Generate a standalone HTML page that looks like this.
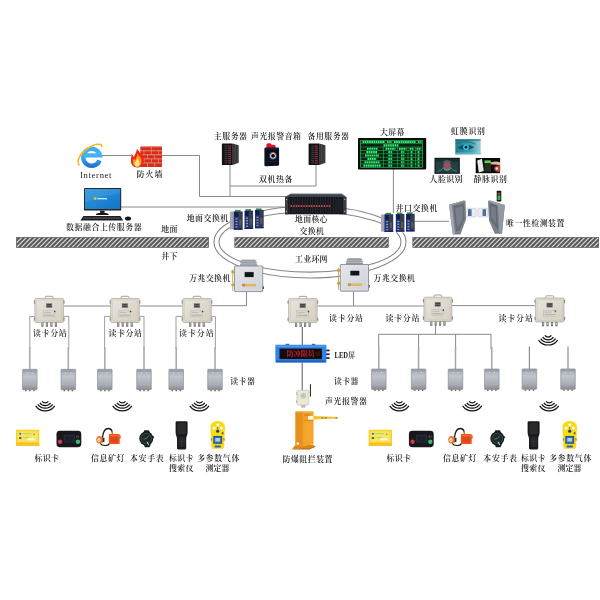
<!DOCTYPE html>
<html lang="zh-CN">
<head>
<meta charset="utf-8">
<title>人员定位系统拓扑图</title>
<style>
html,body{margin:0;padding:0;background:#fff;}
body{width:600px;height:600px;overflow:hidden;}
svg{display:block;font-family:"Liberation Serif", "Noto Serif CJK SC", serif;will-change:transform;}
</style>
</head>
<body>
<svg width="600" height="600" viewBox="0 0 600 600">
<rect width="600" height="600" fill="#ffffff"/>
<defs>
<linearGradient id="gStation" x1="0" y1="0" x2="1" y2="1">
<stop offset="0" stop-color="#e9e5dc"/><stop offset="1" stop-color="#d4cec2"/>
</linearGradient>
<linearGradient id="gReader" x1="0" y1="0" x2="0" y2="1">
<stop offset="0" stop-color="#9fa3ac"/><stop offset="0.35" stop-color="#c0c4cb"/><stop offset="0.75" stop-color="#a9adb5"/><stop offset="1" stop-color="#878b94"/>
</linearGradient>
<linearGradient id="g10g" x1="0" y1="0" x2="1" y2="1">
<stop offset="0" stop-color="#e3e6ea"/><stop offset="1" stop-color="#ced2d8"/>
</linearGradient>
</defs>
<clipPath id="cb0"><rect x="16.3" y="237.3" width="192.40" height="10.30"/></clipPath>
<rect x="16.3" y="237.3" width="192.40" height="10.30" fill="#595959"/>
<path clip-path="url(#cb0)" d="M6.60 248.10 l11.30 -11.30 M11.22 248.10 l11.30 -11.30 M15.84 248.10 l11.30 -11.30 M20.46 248.10 l11.30 -11.30 M25.08 248.10 l11.30 -11.30 M29.70 248.10 l11.30 -11.30 M34.32 248.10 l11.30 -11.30 M38.94 248.10 l11.30 -11.30 M43.56 248.10 l11.30 -11.30 M48.18 248.10 l11.30 -11.30 M52.80 248.10 l11.30 -11.30 M57.42 248.10 l11.30 -11.30 M62.04 248.10 l11.30 -11.30 M66.66 248.10 l11.30 -11.30 M71.28 248.10 l11.30 -11.30 M75.90 248.10 l11.30 -11.30 M80.52 248.10 l11.30 -11.30 M85.14 248.10 l11.30 -11.30 M89.76 248.10 l11.30 -11.30 M94.38 248.10 l11.30 -11.30 M99.00 248.10 l11.30 -11.30 M103.62 248.10 l11.30 -11.30 M108.24 248.10 l11.30 -11.30 M112.86 248.10 l11.30 -11.30 M117.48 248.10 l11.30 -11.30 M122.10 248.10 l11.30 -11.30 M126.72 248.10 l11.30 -11.30 M131.34 248.10 l11.30 -11.30 M135.96 248.10 l11.30 -11.30 M140.58 248.10 l11.30 -11.30 M145.20 248.10 l11.30 -11.30 M149.82 248.10 l11.30 -11.30 M154.44 248.10 l11.30 -11.30 M159.06 248.10 l11.30 -11.30 M163.68 248.10 l11.30 -11.30 M168.30 248.10 l11.30 -11.30 M172.92 248.10 l11.30 -11.30 M177.54 248.10 l11.30 -11.30 M182.16 248.10 l11.30 -11.30 M186.78 248.10 l11.30 -11.30 M191.40 248.10 l11.30 -11.30 M196.02 248.10 l11.30 -11.30 M200.64 248.10 l11.30 -11.30 M205.26 248.10 l11.30 -11.30" stroke="#d6d6d6" stroke-width="1.2" fill="none"/>
<rect x="16.3" y="237.3" width="192.40" height="10.30" fill="none" stroke="#505050" stroke-width="0.5"/>
<clipPath id="cb1"><rect x="234.8" y="237.3" width="153.60" height="10.30"/></clipPath>
<rect x="234.8" y="237.3" width="153.60" height="10.30" fill="#595959"/>
<path clip-path="url(#cb1)" d="M225.10 248.10 l11.30 -11.30 M229.72 248.10 l11.30 -11.30 M234.34 248.10 l11.30 -11.30 M238.96 248.10 l11.30 -11.30 M243.58 248.10 l11.30 -11.30 M248.20 248.10 l11.30 -11.30 M252.82 248.10 l11.30 -11.30 M257.44 248.10 l11.30 -11.30 M262.06 248.10 l11.30 -11.30 M266.68 248.10 l11.30 -11.30 M271.30 248.10 l11.30 -11.30 M275.92 248.10 l11.30 -11.30 M280.54 248.10 l11.30 -11.30 M285.16 248.10 l11.30 -11.30 M289.78 248.10 l11.30 -11.30 M294.40 248.10 l11.30 -11.30 M299.02 248.10 l11.30 -11.30 M303.64 248.10 l11.30 -11.30 M308.26 248.10 l11.30 -11.30 M312.88 248.10 l11.30 -11.30 M317.50 248.10 l11.30 -11.30 M322.12 248.10 l11.30 -11.30 M326.74 248.10 l11.30 -11.30 M331.36 248.10 l11.30 -11.30 M335.98 248.10 l11.30 -11.30 M340.60 248.10 l11.30 -11.30 M345.22 248.10 l11.30 -11.30 M349.84 248.10 l11.30 -11.30 M354.46 248.10 l11.30 -11.30 M359.08 248.10 l11.30 -11.30 M363.70 248.10 l11.30 -11.30 M368.32 248.10 l11.30 -11.30 M372.94 248.10 l11.30 -11.30 M377.56 248.10 l11.30 -11.30 M382.18 248.10 l11.30 -11.30 M386.80 248.10 l11.30 -11.30" stroke="#d6d6d6" stroke-width="1.2" fill="none"/>
<rect x="234.8" y="237.3" width="153.60" height="10.30" fill="none" stroke="#505050" stroke-width="0.5"/>
<clipPath id="cb2"><rect x="412.8" y="237.3" width="186.00" height="10.30"/></clipPath>
<rect x="412.8" y="237.3" width="186.00" height="10.30" fill="#595959"/>
<path clip-path="url(#cb2)" d="M403.10 248.10 l11.30 -11.30 M407.72 248.10 l11.30 -11.30 M412.34 248.10 l11.30 -11.30 M416.96 248.10 l11.30 -11.30 M421.58 248.10 l11.30 -11.30 M426.20 248.10 l11.30 -11.30 M430.82 248.10 l11.30 -11.30 M435.44 248.10 l11.30 -11.30 M440.06 248.10 l11.30 -11.30 M444.68 248.10 l11.30 -11.30 M449.30 248.10 l11.30 -11.30 M453.92 248.10 l11.30 -11.30 M458.54 248.10 l11.30 -11.30 M463.16 248.10 l11.30 -11.30 M467.78 248.10 l11.30 -11.30 M472.40 248.10 l11.30 -11.30 M477.02 248.10 l11.30 -11.30 M481.64 248.10 l11.30 -11.30 M486.26 248.10 l11.30 -11.30 M490.88 248.10 l11.30 -11.30 M495.50 248.10 l11.30 -11.30 M500.12 248.10 l11.30 -11.30 M504.74 248.10 l11.30 -11.30 M509.36 248.10 l11.30 -11.30 M513.98 248.10 l11.30 -11.30 M518.60 248.10 l11.30 -11.30 M523.22 248.10 l11.30 -11.30 M527.84 248.10 l11.30 -11.30 M532.46 248.10 l11.30 -11.30 M537.08 248.10 l11.30 -11.30 M541.70 248.10 l11.30 -11.30 M546.32 248.10 l11.30 -11.30 M550.94 248.10 l11.30 -11.30 M555.56 248.10 l11.30 -11.30 M560.18 248.10 l11.30 -11.30 M564.80 248.10 l11.30 -11.30 M569.42 248.10 l11.30 -11.30 M574.04 248.10 l11.30 -11.30 M578.66 248.10 l11.30 -11.30 M583.28 248.10 l11.30 -11.30 M587.90 248.10 l11.30 -11.30 M592.52 248.10 l11.30 -11.30 M597.14 248.10 l11.30 -11.30" stroke="#d6d6d6" stroke-width="1.2" fill="none"/>
<rect x="412.8" y="237.3" width="186.00" height="10.30" fill="none" stroke="#505050" stroke-width="0.5"/>
<ellipse cx="310" cy="242" rx="96" ry="36" fill="none" stroke="#858585" stroke-width="1.05"/>
<ellipse cx="310" cy="242" rx="91" ry="30.1" fill="none" stroke="#858585" stroke-width="1.05"/>
<path d="M102.00 155.50 L131.00 155.50" fill="none" stroke="#7d7d7d" stroke-width="0.9"/>
<path d="M162.00 155.50 L199.50 155.50 L199.50 196.50 L291.00 196.50" fill="none" stroke="#7d7d7d" stroke-width="0.9"/>
<path d="M121.00 207.00 L287.00 207.00" fill="none" stroke="#7d7d7d" stroke-width="0.9"/>
<path d="M230.00 165.00 L230.00 196.00" fill="none" stroke="#7d7d7d" stroke-width="0.9"/>
<path d="M230.00 186.00 L316.00 186.00 L316.00 165.00" fill="none" stroke="#7d7d7d" stroke-width="0.9"/>
<path d="M393.40 169.00 L393.40 214.00" fill="none" stroke="#7d7d7d" stroke-width="0.9"/>
<path d="M414.00 221.30 L449.00 221.30" fill="none" stroke="#7d7d7d" stroke-width="0.9"/>
<path d="M64.00 306.00 L111.00 306.00" fill="none" stroke="#7d7d7d" stroke-width="0.9"/>
<path d="M139.50 306.00 L182.00 306.00" fill="none" stroke="#7d7d7d" stroke-width="0.9"/>
<path d="M211.00 305.70 L246.50 305.70 L246.50 292.00" fill="none" stroke="#7d7d7d" stroke-width="0.9"/>
<path d="M317.50 306.00 L424.20 306.00" fill="none" stroke="#7d7d7d" stroke-width="0.9"/>
<path d="M353.50 291.00 L353.50 306.00" fill="none" stroke="#7d7d7d" stroke-width="0.9"/>
<path d="M451.80 305.60 L535.00 305.60" fill="none" stroke="#7d7d7d" stroke-width="0.9"/>
<path d="M34.70 316.40 L29.80 316.40 L29.80 349.00" fill="none" stroke="#858585" stroke-width="0.8"/>
<path d="M63.70 316.40 L68.80 316.40 L68.80 349.00" fill="none" stroke="#858585" stroke-width="0.8"/>
<path d="M110.50 316.40 L104.60 316.40 L104.60 349.00" fill="none" stroke="#858585" stroke-width="0.8"/>
<path d="M139.50 316.40 L144.00 316.40 L144.00 349.00" fill="none" stroke="#858585" stroke-width="0.8"/>
<path d="M182.50 316.40 L176.00 316.40 L176.00 349.00" fill="none" stroke="#858585" stroke-width="0.8"/>
<path d="M211.50 316.40 L215.40 316.40 L215.40 349.00" fill="none" stroke="#858585" stroke-width="0.8"/>
<path d="M302.30 327.00 L302.30 345.00" fill="none" stroke="#666" stroke-width="1.1"/>
<path d="M435.50 325.50 L435.50 334.30" fill="none" stroke="#7d7d7d" stroke-width="0.9"/>
<path d="M378.70 349.00 L378.70 334.30 L491.00 334.30 L491.00 349.00" fill="none" stroke="#7d7d7d" stroke-width="0.9"/>
<path d="M418.60 334.30 L418.60 349.00" fill="none" stroke="#7d7d7d" stroke-width="0.9"/>
<path d="M455.60 334.30 L455.60 349.00" fill="none" stroke="#7d7d7d" stroke-width="0.9"/>
<path d="M45.30 298.5 v-1.4 q0 -0.8 0.8 -0.8 h6.20 q0.8 0 0.8 0.8 v1.4" fill="none" stroke="#9a978c" stroke-width="0.9"/>
<rect x="33.85" y="300.30" width="1.6" height="3.4" rx="0.5" fill="#85827a"/>
<rect x="33.85" y="317.30" width="1.6" height="3.4" rx="0.5" fill="#85827a"/>
<rect x="62.95" y="300.30" width="1.6" height="3.4" rx="0.5" fill="#85827a"/>
<rect x="62.95" y="317.30" width="1.6" height="3.4" rx="0.5" fill="#85827a"/>
<rect x="34.95" y="298.5" width="28.5" height="24.0" rx="1.1" fill="url(#gStation)" stroke="#aba598" stroke-width="0.7"/>
<rect x="36.55" y="300.1" width="25.30" height="20.80" rx="0.8" fill="none" stroke="#c9c3b6" stroke-width="0.5"/>
<rect x="46.20" y="303.5" width="5.80" height="4.2" fill="#3c4648" stroke="#9a9c98" stroke-width="0.5"/>
<rect x="46.20" y="305.4" width="5.80" height="0.5" fill="#7d8587"/>
<rect x="43.10" y="310.7" width="11.80" height="6.2" fill="#dad7d0" stroke="#b3afa5" stroke-width="0.4"/>
<rect x="44.00" y="312.3" width="7.00" height="0.7" fill="#b4b2ab"/>
<rect x="44.00" y="314.7" width="10.00" height="0.9" fill="#a9a7a0"/>
<circle cx="54.80" cy="311.5" r="0.85" fill="#4d4642"/>
<rect x="41.30" y="322.5" width="2.2" height="4.3" fill="#77756e"/>
<rect x="41.90" y="323.1" width="1" height="2.4" fill="#b9b6ab"/>
<rect x="45.80" y="322.5" width="2.2" height="4.3" fill="#77756e"/>
<rect x="46.40" y="323.1" width="1" height="2.4" fill="#b9b6ab"/>
<rect x="50.30" y="322.5" width="2.2" height="4.3" fill="#77756e"/>
<rect x="50.90" y="323.1" width="1" height="2.4" fill="#b9b6ab"/>
<rect x="54.80" y="322.5" width="2.2" height="4.3" fill="#77756e"/>
<rect x="55.40" y="323.1" width="1" height="2.4" fill="#b9b6ab"/>
<path d="M121.10 298.5 v-1.4 q0 -0.8 0.8 -0.8 h6.20 q0.8 0 0.8 0.8 v1.4" fill="none" stroke="#9a978c" stroke-width="0.9"/>
<rect x="109.65" y="300.30" width="1.6" height="3.4" rx="0.5" fill="#85827a"/>
<rect x="109.65" y="317.30" width="1.6" height="3.4" rx="0.5" fill="#85827a"/>
<rect x="138.75" y="300.30" width="1.6" height="3.4" rx="0.5" fill="#85827a"/>
<rect x="138.75" y="317.30" width="1.6" height="3.4" rx="0.5" fill="#85827a"/>
<rect x="110.75" y="298.5" width="28.5" height="24.0" rx="1.1" fill="url(#gStation)" stroke="#aba598" stroke-width="0.7"/>
<rect x="112.35" y="300.1" width="25.30" height="20.80" rx="0.8" fill="none" stroke="#c9c3b6" stroke-width="0.5"/>
<rect x="122.00" y="303.5" width="5.80" height="4.2" fill="#3c4648" stroke="#9a9c98" stroke-width="0.5"/>
<rect x="122.00" y="305.4" width="5.80" height="0.5" fill="#7d8587"/>
<rect x="118.90" y="310.7" width="11.80" height="6.2" fill="#dad7d0" stroke="#b3afa5" stroke-width="0.4"/>
<rect x="119.80" y="312.3" width="7.00" height="0.7" fill="#b4b2ab"/>
<rect x="119.80" y="314.7" width="10.00" height="0.9" fill="#a9a7a0"/>
<circle cx="130.60" cy="311.5" r="0.85" fill="#4d4642"/>
<rect x="117.10" y="322.5" width="2.2" height="4.3" fill="#77756e"/>
<rect x="117.70" y="323.1" width="1" height="2.4" fill="#b9b6ab"/>
<rect x="121.60" y="322.5" width="2.2" height="4.3" fill="#77756e"/>
<rect x="122.20" y="323.1" width="1" height="2.4" fill="#b9b6ab"/>
<rect x="126.10" y="322.5" width="2.2" height="4.3" fill="#77756e"/>
<rect x="126.70" y="323.1" width="1" height="2.4" fill="#b9b6ab"/>
<rect x="130.60" y="322.5" width="2.2" height="4.3" fill="#77756e"/>
<rect x="131.20" y="323.1" width="1" height="2.4" fill="#b9b6ab"/>
<path d="M193.10 298.5 v-1.4 q0 -0.8 0.8 -0.8 h6.20 q0.8 0 0.8 0.8 v1.4" fill="none" stroke="#9a978c" stroke-width="0.9"/>
<rect x="181.65" y="300.30" width="1.6" height="3.4" rx="0.5" fill="#85827a"/>
<rect x="181.65" y="317.30" width="1.6" height="3.4" rx="0.5" fill="#85827a"/>
<rect x="210.75" y="300.30" width="1.6" height="3.4" rx="0.5" fill="#85827a"/>
<rect x="210.75" y="317.30" width="1.6" height="3.4" rx="0.5" fill="#85827a"/>
<rect x="182.75" y="298.5" width="28.5" height="24.0" rx="1.1" fill="url(#gStation)" stroke="#aba598" stroke-width="0.7"/>
<rect x="184.35" y="300.1" width="25.30" height="20.80" rx="0.8" fill="none" stroke="#c9c3b6" stroke-width="0.5"/>
<rect x="194.00" y="303.5" width="5.80" height="4.2" fill="#3c4648" stroke="#9a9c98" stroke-width="0.5"/>
<rect x="194.00" y="305.4" width="5.80" height="0.5" fill="#7d8587"/>
<rect x="190.90" y="310.7" width="11.80" height="6.2" fill="#dad7d0" stroke="#b3afa5" stroke-width="0.4"/>
<rect x="191.80" y="312.3" width="7.00" height="0.7" fill="#b4b2ab"/>
<rect x="191.80" y="314.7" width="10.00" height="0.9" fill="#a9a7a0"/>
<circle cx="202.60" cy="311.5" r="0.85" fill="#4d4642"/>
<rect x="189.10" y="322.5" width="2.2" height="4.3" fill="#77756e"/>
<rect x="189.70" y="323.1" width="1" height="2.4" fill="#b9b6ab"/>
<rect x="193.60" y="322.5" width="2.2" height="4.3" fill="#77756e"/>
<rect x="194.20" y="323.1" width="1" height="2.4" fill="#b9b6ab"/>
<rect x="198.10" y="322.5" width="2.2" height="4.3" fill="#77756e"/>
<rect x="198.70" y="323.1" width="1" height="2.4" fill="#b9b6ab"/>
<rect x="202.60" y="322.5" width="2.2" height="4.3" fill="#77756e"/>
<rect x="203.20" y="323.1" width="1" height="2.4" fill="#b9b6ab"/>
<path d="M299.00 298.6 v-1.4 q0 -0.8 0.8 -0.8 h6.20 q0.8 0 0.8 0.8 v1.4" fill="none" stroke="#9a978c" stroke-width="0.9"/>
<rect x="287.55" y="300.40" width="1.6" height="3.4" rx="0.5" fill="#85827a"/>
<rect x="287.55" y="317.40" width="1.6" height="3.4" rx="0.5" fill="#85827a"/>
<rect x="316.65" y="300.40" width="1.6" height="3.4" rx="0.5" fill="#85827a"/>
<rect x="316.65" y="317.40" width="1.6" height="3.4" rx="0.5" fill="#85827a"/>
<rect x="288.65" y="298.6" width="28.5" height="24.0" rx="1.1" fill="url(#gStation)" stroke="#aba598" stroke-width="0.7"/>
<rect x="290.25" y="300.20000000000005" width="25.30" height="20.80" rx="0.8" fill="none" stroke="#c9c3b6" stroke-width="0.5"/>
<rect x="299.90" y="303.6" width="5.80" height="4.2" fill="#3c4648" stroke="#9a9c98" stroke-width="0.5"/>
<rect x="299.90" y="305.5" width="5.80" height="0.5" fill="#7d8587"/>
<rect x="296.80" y="310.8" width="11.80" height="6.2" fill="#dad7d0" stroke="#b3afa5" stroke-width="0.4"/>
<rect x="297.70" y="312.40000000000003" width="7.00" height="0.7" fill="#b4b2ab"/>
<rect x="297.70" y="314.8" width="10.00" height="0.9" fill="#a9a7a0"/>
<circle cx="308.50" cy="311.6" r="0.85" fill="#4d4642"/>
<rect x="295.00" y="322.6" width="2.2" height="4.3" fill="#77756e"/>
<rect x="295.60" y="323.20000000000005" width="1" height="2.4" fill="#b9b6ab"/>
<rect x="299.50" y="322.6" width="2.2" height="4.3" fill="#77756e"/>
<rect x="300.10" y="323.20000000000005" width="1" height="2.4" fill="#b9b6ab"/>
<rect x="304.00" y="322.6" width="2.2" height="4.3" fill="#77756e"/>
<rect x="304.60" y="323.20000000000005" width="1" height="2.4" fill="#b9b6ab"/>
<rect x="308.50" y="322.6" width="2.2" height="4.3" fill="#77756e"/>
<rect x="309.10" y="323.20000000000005" width="1" height="2.4" fill="#b9b6ab"/>
<path d="M434.10 297.2 v-1.4 q0 -0.8 0.8 -0.8 h6.01 q0.8 0 0.8 0.8 v1.4" fill="none" stroke="#9a978c" stroke-width="0.9"/>
<rect x="422.90" y="299.00" width="1.6" height="3.4" rx="0.5" fill="#85827a"/>
<rect x="422.90" y="316.30" width="1.6" height="3.4" rx="0.5" fill="#85827a"/>
<rect x="451.30" y="299.00" width="1.6" height="3.4" rx="0.5" fill="#85827a"/>
<rect x="451.30" y="316.30" width="1.6" height="3.4" rx="0.5" fill="#85827a"/>
<rect x="424.00" y="297.2" width="27.8" height="24.3" rx="1.1" fill="url(#gStation)" stroke="#aba598" stroke-width="0.7"/>
<rect x="425.60" y="298.8" width="24.60" height="21.10" rx="0.8" fill="none" stroke="#c9c3b6" stroke-width="0.5"/>
<rect x="434.97" y="302.2" width="5.66" height="4.2" fill="#3c4648" stroke="#9a9c98" stroke-width="0.5"/>
<rect x="434.97" y="304.09999999999997" width="5.66" height="0.5" fill="#7d8587"/>
<rect x="431.95" y="309.4" width="11.51" height="6.2" fill="#dad7d0" stroke="#b3afa5" stroke-width="0.4"/>
<rect x="432.83" y="311.0" width="6.83" height="0.7" fill="#b4b2ab"/>
<rect x="432.83" y="313.4" width="9.75" height="0.9" fill="#a9a7a0"/>
<circle cx="443.36" cy="310.2" r="0.85" fill="#4d4642"/>
<rect x="430.19" y="321.5" width="2.2" height="4.3" fill="#77756e"/>
<rect x="430.79" y="322.1" width="1" height="2.4" fill="#b9b6ab"/>
<rect x="434.58" y="321.5" width="2.2" height="4.3" fill="#77756e"/>
<rect x="435.18" y="322.1" width="1" height="2.4" fill="#b9b6ab"/>
<rect x="438.97" y="321.5" width="2.2" height="4.3" fill="#77756e"/>
<rect x="439.57" y="322.1" width="1" height="2.4" fill="#b9b6ab"/>
<rect x="443.36" y="321.5" width="2.2" height="4.3" fill="#77756e"/>
<rect x="443.96" y="322.1" width="1" height="2.4" fill="#b9b6ab"/>
<path d="M545.91 298 v-1.4 q0 -0.8 0.8 -0.8 h6.17 q0.8 0 0.8 0.8 v1.4" fill="none" stroke="#9a978c" stroke-width="0.9"/>
<rect x="534.50" y="299.80" width="1.6" height="3.4" rx="0.5" fill="#85827a"/>
<rect x="534.50" y="316.80" width="1.6" height="3.4" rx="0.5" fill="#85827a"/>
<rect x="563.50" y="299.80" width="1.6" height="3.4" rx="0.5" fill="#85827a"/>
<rect x="563.50" y="316.80" width="1.6" height="3.4" rx="0.5" fill="#85827a"/>
<rect x="535.60" y="298" width="28.4" height="24.0" rx="1.1" fill="url(#gStation)" stroke="#aba598" stroke-width="0.7"/>
<rect x="537.20" y="299.6" width="25.20" height="20.80" rx="0.8" fill="none" stroke="#c9c3b6" stroke-width="0.5"/>
<rect x="546.81" y="303" width="5.78" height="4.2" fill="#3c4648" stroke="#9a9c98" stroke-width="0.5"/>
<rect x="546.81" y="304.9" width="5.78" height="0.5" fill="#7d8587"/>
<rect x="543.72" y="310.2" width="11.76" height="6.2" fill="#dad7d0" stroke="#b3afa5" stroke-width="0.4"/>
<rect x="544.62" y="311.8" width="6.98" height="0.7" fill="#b4b2ab"/>
<rect x="544.62" y="314.2" width="9.96" height="0.9" fill="#a9a7a0"/>
<circle cx="555.38" cy="311" r="0.85" fill="#4d4642"/>
<rect x="541.93" y="322.0" width="2.2" height="4.3" fill="#77756e"/>
<rect x="542.53" y="322.6" width="1" height="2.4" fill="#b9b6ab"/>
<rect x="546.41" y="322.0" width="2.2" height="4.3" fill="#77756e"/>
<rect x="547.01" y="322.6" width="1" height="2.4" fill="#b9b6ab"/>
<rect x="550.90" y="322.0" width="2.2" height="4.3" fill="#77756e"/>
<rect x="551.50" y="322.6" width="1" height="2.4" fill="#b9b6ab"/>
<rect x="555.38" y="322.0" width="2.2" height="4.3" fill="#77756e"/>
<rect x="555.98" y="322.6" width="1" height="2.4" fill="#b9b6ab"/>
<rect x="29.05" y="347.3" width="1.5" height="22" fill="#a3a6ab"/>
<rect x="22.50" y="369.3" width="14.6" height="20.4" rx="0.5" fill="url(#gReader)" stroke="#83878e" stroke-width="0.6"/>
<rect x="23.30" y="370.3" width="13.0" height="1.2" fill="#8d9199" opacity="0.6"/>
<circle cx="27.20" cy="372.90000000000003" r="0.5" fill="#e8eaee"/>
<circle cx="32.40" cy="372.90000000000003" r="0.5" fill="#e8eaee"/>
<rect x="25.10" y="389.7" width="1.5" height="1.6" fill="#7d6a62"/>
<rect x="29.10" y="389.7" width="1.5" height="1.6" fill="#7d6a62"/>
<rect x="33.10" y="389.7" width="1.5" height="1.6" fill="#7d6a62"/>
<rect x="67.55" y="347.3" width="1.5" height="22" fill="#a3a6ab"/>
<rect x="61.00" y="369.3" width="14.6" height="20.4" rx="0.5" fill="url(#gReader)" stroke="#83878e" stroke-width="0.6"/>
<rect x="61.80" y="370.3" width="13.0" height="1.2" fill="#8d9199" opacity="0.6"/>
<circle cx="65.70" cy="372.90000000000003" r="0.5" fill="#e8eaee"/>
<circle cx="70.90" cy="372.90000000000003" r="0.5" fill="#e8eaee"/>
<rect x="63.60" y="389.7" width="1.5" height="1.6" fill="#7d6a62"/>
<rect x="67.60" y="389.7" width="1.5" height="1.6" fill="#7d6a62"/>
<rect x="71.60" y="389.7" width="1.5" height="1.6" fill="#7d6a62"/>
<rect x="104.05" y="347.3" width="1.5" height="22" fill="#a3a6ab"/>
<rect x="97.50" y="369.3" width="14.6" height="20.4" rx="0.5" fill="url(#gReader)" stroke="#83878e" stroke-width="0.6"/>
<rect x="98.30" y="370.3" width="13.0" height="1.2" fill="#8d9199" opacity="0.6"/>
<circle cx="102.20" cy="372.90000000000003" r="0.5" fill="#e8eaee"/>
<circle cx="107.40" cy="372.90000000000003" r="0.5" fill="#e8eaee"/>
<rect x="100.10" y="389.7" width="1.5" height="1.6" fill="#7d6a62"/>
<rect x="104.10" y="389.7" width="1.5" height="1.6" fill="#7d6a62"/>
<rect x="108.10" y="389.7" width="1.5" height="1.6" fill="#7d6a62"/>
<rect x="143.25" y="347.3" width="1.5" height="22" fill="#a3a6ab"/>
<rect x="136.70" y="369.3" width="14.6" height="20.4" rx="0.5" fill="url(#gReader)" stroke="#83878e" stroke-width="0.6"/>
<rect x="137.50" y="370.3" width="13.0" height="1.2" fill="#8d9199" opacity="0.6"/>
<circle cx="141.40" cy="372.90000000000003" r="0.5" fill="#e8eaee"/>
<circle cx="146.60" cy="372.90000000000003" r="0.5" fill="#e8eaee"/>
<rect x="139.30" y="389.7" width="1.5" height="1.6" fill="#7d6a62"/>
<rect x="143.30" y="389.7" width="1.5" height="1.6" fill="#7d6a62"/>
<rect x="147.30" y="389.7" width="1.5" height="1.6" fill="#7d6a62"/>
<rect x="175.45" y="347.3" width="1.5" height="22" fill="#a3a6ab"/>
<rect x="168.90" y="369.3" width="14.6" height="20.4" rx="0.5" fill="url(#gReader)" stroke="#83878e" stroke-width="0.6"/>
<rect x="169.70" y="370.3" width="13.0" height="1.2" fill="#8d9199" opacity="0.6"/>
<circle cx="173.60" cy="372.90000000000003" r="0.5" fill="#e8eaee"/>
<circle cx="178.80" cy="372.90000000000003" r="0.5" fill="#e8eaee"/>
<rect x="171.50" y="389.7" width="1.5" height="1.6" fill="#7d6a62"/>
<rect x="175.50" y="389.7" width="1.5" height="1.6" fill="#7d6a62"/>
<rect x="179.50" y="389.7" width="1.5" height="1.6" fill="#7d6a62"/>
<rect x="214.25" y="347.3" width="1.5" height="22" fill="#a3a6ab"/>
<rect x="207.70" y="369.3" width="14.6" height="20.4" rx="0.5" fill="url(#gReader)" stroke="#83878e" stroke-width="0.6"/>
<rect x="208.50" y="370.3" width="13.0" height="1.2" fill="#8d9199" opacity="0.6"/>
<circle cx="212.40" cy="372.90000000000003" r="0.5" fill="#e8eaee"/>
<circle cx="217.60" cy="372.90000000000003" r="0.5" fill="#e8eaee"/>
<rect x="210.30" y="389.7" width="1.5" height="1.6" fill="#7d6a62"/>
<rect x="214.30" y="389.7" width="1.5" height="1.6" fill="#7d6a62"/>
<rect x="218.30" y="389.7" width="1.5" height="1.6" fill="#7d6a62"/>
<rect x="378.05" y="347" width="1.5" height="22" fill="#a3a6ab"/>
<rect x="371.50" y="369" width="14.6" height="20.4" rx="0.5" fill="url(#gReader)" stroke="#83878e" stroke-width="0.6"/>
<rect x="372.30" y="370" width="13.0" height="1.2" fill="#8d9199" opacity="0.6"/>
<circle cx="376.20" cy="372.6" r="0.5" fill="#e8eaee"/>
<circle cx="381.40" cy="372.6" r="0.5" fill="#e8eaee"/>
<rect x="374.10" y="389.4" width="1.5" height="1.6" fill="#7d6a62"/>
<rect x="378.10" y="389.4" width="1.5" height="1.6" fill="#7d6a62"/>
<rect x="382.10" y="389.4" width="1.5" height="1.6" fill="#7d6a62"/>
<rect x="417.85" y="347" width="1.5" height="22" fill="#a3a6ab"/>
<rect x="411.30" y="369" width="14.6" height="20.4" rx="0.5" fill="url(#gReader)" stroke="#83878e" stroke-width="0.6"/>
<rect x="412.10" y="370" width="13.0" height="1.2" fill="#8d9199" opacity="0.6"/>
<circle cx="416.00" cy="372.6" r="0.5" fill="#e8eaee"/>
<circle cx="421.20" cy="372.6" r="0.5" fill="#e8eaee"/>
<rect x="413.90" y="389.4" width="1.5" height="1.6" fill="#7d6a62"/>
<rect x="417.90" y="389.4" width="1.5" height="1.6" fill="#7d6a62"/>
<rect x="421.90" y="389.4" width="1.5" height="1.6" fill="#7d6a62"/>
<rect x="454.75" y="347" width="1.5" height="22" fill="#a3a6ab"/>
<rect x="448.20" y="369" width="14.6" height="20.4" rx="0.5" fill="url(#gReader)" stroke="#83878e" stroke-width="0.6"/>
<rect x="449.00" y="370" width="13.0" height="1.2" fill="#8d9199" opacity="0.6"/>
<circle cx="452.90" cy="372.6" r="0.5" fill="#e8eaee"/>
<circle cx="458.10" cy="372.6" r="0.5" fill="#e8eaee"/>
<rect x="450.80" y="389.4" width="1.5" height="1.6" fill="#7d6a62"/>
<rect x="454.80" y="389.4" width="1.5" height="1.6" fill="#7d6a62"/>
<rect x="458.80" y="389.4" width="1.5" height="1.6" fill="#7d6a62"/>
<rect x="491.05" y="347" width="1.5" height="22" fill="#a3a6ab"/>
<rect x="484.50" y="369" width="14.6" height="20.4" rx="0.5" fill="url(#gReader)" stroke="#83878e" stroke-width="0.6"/>
<rect x="485.30" y="370" width="13.0" height="1.2" fill="#8d9199" opacity="0.6"/>
<circle cx="489.20" cy="372.6" r="0.5" fill="#e8eaee"/>
<circle cx="494.40" cy="372.6" r="0.5" fill="#e8eaee"/>
<rect x="487.10" y="389.4" width="1.5" height="1.6" fill="#7d6a62"/>
<rect x="491.10" y="389.4" width="1.5" height="1.6" fill="#7d6a62"/>
<rect x="495.10" y="389.4" width="1.5" height="1.6" fill="#7d6a62"/>
<rect x="528.80" y="346.4" width="1.2" height="22.5" fill="#8a8d92"/>
<rect x="522.10" y="368.9" width="14.6" height="20.4" rx="0.5" fill="url(#gReader)" stroke="#83878e" stroke-width="0.6"/>
<rect x="522.90" y="369.9" width="13.0" height="1.2" fill="#8d9199" opacity="0.6"/>
<circle cx="526.80" cy="372.5" r="0.5" fill="#e8eaee"/>
<circle cx="532.00" cy="372.5" r="0.5" fill="#e8eaee"/>
<rect x="524.70" y="389.29999999999995" width="1.5" height="1.6" fill="#7d6a62"/>
<rect x="528.70" y="389.29999999999995" width="1.5" height="1.6" fill="#7d6a62"/>
<rect x="532.70" y="389.29999999999995" width="1.5" height="1.6" fill="#7d6a62"/>
<rect x="567.40" y="346.4" width="1.2" height="22.5" fill="#8a8d92"/>
<rect x="560.70" y="368.9" width="14.6" height="20.4" rx="0.5" fill="url(#gReader)" stroke="#83878e" stroke-width="0.6"/>
<rect x="561.50" y="369.9" width="13.0" height="1.2" fill="#8d9199" opacity="0.6"/>
<circle cx="565.40" cy="372.5" r="0.5" fill="#e8eaee"/>
<circle cx="570.60" cy="372.5" r="0.5" fill="#e8eaee"/>
<rect x="563.30" y="389.29999999999995" width="1.5" height="1.6" fill="#7d6a62"/>
<rect x="567.30" y="389.29999999999995" width="1.5" height="1.6" fill="#7d6a62"/>
<rect x="571.30" y="389.29999999999995" width="1.5" height="1.6" fill="#7d6a62"/>
<path d="M42.02 401.26 A3.9 3.9 0 0 0 48.38 401.26" fill="none" stroke="#111" stroke-width="1.2"/>
<path d="M39.83 402.83 A6.6 6.6 0 0 0 50.57 402.83" fill="none" stroke="#111" stroke-width="1.2"/>
<path d="M37.71 404.34 A9.2 9.2 0 0 0 52.69 404.34" fill="none" stroke="#111" stroke-width="1.2"/>
<path d="M35.59 405.85 A11.8 11.8 0 0 0 54.81 405.85" fill="none" stroke="#111" stroke-width="1.2"/>
<path d="M119.12 401.26 A3.9 3.9 0 0 0 125.48 401.26" fill="none" stroke="#111" stroke-width="1.2"/>
<path d="M116.93 402.83 A6.6 6.6 0 0 0 127.67 402.83" fill="none" stroke="#111" stroke-width="1.2"/>
<path d="M114.81 404.34 A9.2 9.2 0 0 0 129.79 404.34" fill="none" stroke="#111" stroke-width="1.2"/>
<path d="M112.69 405.85 A11.8 11.8 0 0 0 131.91 405.85" fill="none" stroke="#111" stroke-width="1.2"/>
<path d="M196.22 401.26 A3.9 3.9 0 0 0 202.58 401.26" fill="none" stroke="#111" stroke-width="1.2"/>
<path d="M194.03 402.83 A6.6 6.6 0 0 0 204.77 402.83" fill="none" stroke="#111" stroke-width="1.2"/>
<path d="M191.91 404.34 A9.2 9.2 0 0 0 206.89 404.34" fill="none" stroke="#111" stroke-width="1.2"/>
<path d="M189.79 405.85 A11.8 11.8 0 0 0 209.01 405.85" fill="none" stroke="#111" stroke-width="1.2"/>
<path d="M396.12 401.26 A3.9 3.9 0 0 0 402.48 401.26" fill="none" stroke="#111" stroke-width="1.2"/>
<path d="M393.93 402.83 A6.6 6.6 0 0 0 404.67 402.83" fill="none" stroke="#111" stroke-width="1.2"/>
<path d="M391.81 404.34 A9.2 9.2 0 0 0 406.79 404.34" fill="none" stroke="#111" stroke-width="1.2"/>
<path d="M389.69 405.85 A11.8 11.8 0 0 0 408.91 405.85" fill="none" stroke="#111" stroke-width="1.2"/>
<path d="M469.02 401.26 A3.9 3.9 0 0 0 475.38 401.26" fill="none" stroke="#111" stroke-width="1.2"/>
<path d="M466.83 402.83 A6.6 6.6 0 0 0 477.57 402.83" fill="none" stroke="#111" stroke-width="1.2"/>
<path d="M464.71 404.34 A9.2 9.2 0 0 0 479.69 404.34" fill="none" stroke="#111" stroke-width="1.2"/>
<path d="M462.59 405.85 A11.8 11.8 0 0 0 481.81 405.85" fill="none" stroke="#111" stroke-width="1.2"/>
<path d="M546.02 401.26 A3.9 3.9 0 0 0 552.38 401.26" fill="none" stroke="#111" stroke-width="1.2"/>
<path d="M543.83 402.83 A6.6 6.6 0 0 0 554.57 402.83" fill="none" stroke="#111" stroke-width="1.2"/>
<path d="M541.71 404.34 A9.2 9.2 0 0 0 556.69 404.34" fill="none" stroke="#111" stroke-width="1.2"/>
<path d="M539.59 405.85 A11.8 11.8 0 0 0 558.81 405.85" fill="none" stroke="#111" stroke-width="1.2"/>
<path d="M544.92 335.46 A3.9 3.9 0 0 0 551.28 335.46" fill="none" stroke="#111" stroke-width="1.2"/>
<path d="M542.73 337.03 A6.6 6.6 0 0 0 553.47 337.03" fill="none" stroke="#111" stroke-width="1.2"/>
<path d="M540.61 338.54 A9.2 9.2 0 0 0 555.59 338.54" fill="none" stroke="#111" stroke-width="1.2"/>
<path d="M538.49 340.05 A11.8 11.8 0 0 0 557.71 340.05" fill="none" stroke="#111" stroke-width="1.2"/>
<defs>
<linearGradient id="gIE" gradientUnits="userSpaceOnUse" x1="0" y1="144" x2="0" y2="167"><stop offset="0" stop-color="#3aa5ee"/><stop offset="0.5" stop-color="#45b4f2"/><stop offset="1" stop-color="#1a74d6"/></linearGradient>
<linearGradient id="gScreen" x1="0" y1="0" x2="1" y2="1"><stop offset="0" stop-color="#2b9be2"/><stop offset="1" stop-color="#1273c4"/></linearGradient>
<linearGradient id="gIris" x1="0" y1="0" x2="1" y2="0"><stop offset="0" stop-color="#1d7c90"/><stop offset="0.6" stop-color="#3d9db0"/><stop offset="1" stop-color="#9fd0d9"/></linearGradient>
<linearGradient id="gGate" x1="0" y1="0" x2="1" y2="0"><stop offset="0" stop-color="#8d939c"/><stop offset="1" stop-color="#5d636d"/></linearGradient>
<linearGradient id="gBar" x1="0" y1="0" x2="1" y2="0"><stop offset="0" stop-color="#f2a42a"/><stop offset="0.45" stop-color="#e8921c"/><stop offset="1" stop-color="#d47c10"/></linearGradient>
<radialGradient id="gFlame" cx="0.5" cy="0.75" r="0.6"><stop offset="0" stop-color="#fff27a"/><stop offset="0.45" stop-color="#ffb31a"/><stop offset="1" stop-color="#e8301c"/></radialGradient>
</defs>
<g>
<path d="M99.6 160.4 A8.5 8.5 0 1 1 100 155.4 L85 155.4" fill="none" stroke="url(#gIE)" stroke-width="4.4"/>
<path d="M79 165 C76.4 160.4 80.4 153.6 85.4 150 C91 145.8 97 143.7 100.4 144.5 C101.8 144.9 102.2 145.8 101.7 146.7" fill="none" stroke="#f8b91c" stroke-width="1.6" stroke-linecap="round"/>
</g>
<g>
<rect x="140.4" y="146.6" width="21.6" height="20.4" rx="0.7" fill="#d32d1b"/>
<rect x="140.4" y="146.90" width="21.6" height="1" fill="#e4503c" opacity="0.7"/>
<rect x="150.95" y="146.60" width="0.5" height="4.08" fill="#f3b3a3"/>
<rect x="140.4" y="150.98" width="21.6" height="1" fill="#e4503c" opacity="0.7"/>
<rect x="140.4" y="150.43" width="21.6" height="0.5" fill="#f3b3a3"/>
<rect x="143.75" y="150.68" width="0.5" height="4.08" fill="#f3b3a3"/>
<rect x="150.95" y="150.68" width="0.5" height="4.08" fill="#f3b3a3"/>
<rect x="158.15" y="150.68" width="0.5" height="4.08" fill="#f3b3a3"/>
<rect x="140.4" y="155.06" width="21.6" height="1" fill="#e4503c" opacity="0.7"/>
<rect x="140.4" y="154.51" width="21.6" height="0.5" fill="#f3b3a3"/>
<rect x="147.35" y="154.76" width="0.5" height="4.08" fill="#f3b3a3"/>
<rect x="154.55" y="154.76" width="0.5" height="4.08" fill="#f3b3a3"/>
<rect x="140.4" y="159.14" width="21.6" height="1" fill="#e4503c" opacity="0.7"/>
<rect x="140.4" y="158.59" width="21.6" height="0.5" fill="#f3b3a3"/>
<rect x="143.75" y="158.84" width="0.5" height="4.08" fill="#f3b3a3"/>
<rect x="150.95" y="158.84" width="0.5" height="4.08" fill="#f3b3a3"/>
<rect x="158.15" y="158.84" width="0.5" height="4.08" fill="#f3b3a3"/>
<rect x="140.4" y="163.22" width="21.6" height="1" fill="#e4503c" opacity="0.7"/>
<rect x="140.4" y="162.67" width="21.6" height="0.5" fill="#f3b3a3"/>
<rect x="147.35" y="162.92" width="0.5" height="4.08" fill="#f3b3a3"/>
<rect x="154.55" y="162.92" width="0.5" height="4.08" fill="#f3b3a3"/>
<path d="M137 148.8 C138.2 151 140 152 140.6 153.6 C140.9 152.9 141 152.4 141.1 152 C142.6 154 143.9 156.8 143.8 160.4 C143.7 164.8 140.8 167.5 137.2 167.5 C133.4 167.5 130.8 164.8 130.9 160.8 C131 158 131.6 156 131.4 153.8 C132.6 154.8 133.4 155.8 133.8 157 C134.8 154.6 136.4 152.4 137 148.8 Z" fill="#e92a1a"/>
<path d="M137.4 153.6 C138.6 156 141.6 158 141.5 161.6 C141.4 164.8 139.6 166.9 137.2 166.9 C134.6 166.9 132.8 164.9 132.9 162 C133 160.4 133.6 159.4 134.2 158.6 C134.8 159.4 135 160 135.2 160.6 C136 158.6 137.2 156.4 137.4 153.6 Z" fill="#ff9b1c"/>
<path d="M137.3 158.6 C138 160.2 139.7 161.4 139.6 163.6 C139.5 165.6 138.5 166.7 137.2 166.7 C135.8 166.7 134.7 165.6 134.8 163.8 C134.9 162 136.6 160.8 137.3 158.6 Z" fill="#ffe98a"/>
</g>
<g>
<rect x="84" y="188" width="37.2" height="22.6" rx="0.9" fill="#2a1a18"/>
<rect x="84.9" y="188.9" width="35.4" height="20.2" fill="url(#gScreen)"/>
<path d="M84.9 188.9 h35.4 v4 q-18 3 -35.4 9 z" fill="#ffffff" opacity="0.08"/>
<circle cx="95.2" cy="198.6" r="1.4" fill="#f6c41e"/>
<rect x="97.4" y="198.1" width="9.6" height="1.2" fill="#e3f0fb"/>
<rect x="100" y="210.6" width="4.6" height="2.6" fill="#232325"/>
<path d="M96 214.9 q0 -1.9 3 -1.9 h6.6 q3 0 3 1.9 z" fill="#161618"/>
<path d="M83.4 216 h37 l2.8 4.4 h-42.8 z" fill="#1d1d20"/>
<rect x="84" y="217" width="36" height="0.5" fill="#5f5f66"/>
<rect x="83" y="218.4" width="38" height="0.5" fill="#5f5f66"/>
<ellipse cx="128" cy="218.5" rx="3.1" ry="2.1" fill="#17171a"/>
</g>
<g>
<path d="M232.5 143.4 l6.2 1.9 v17.4 l-6.2 2.3 z" fill="#343436"/>
<path d="M234.5 144.6 l1 0.3 v19.2 l-1 0.4 z" fill="#4c4c4f"/>
<path d="M236.9 145.4 l0.8 0.3 v17.4 l-0.8 0.3 z" fill="#48484b"/>
<rect x="221.9" y="143.4" width="10.8" height="21.6" rx="0.5" fill="#121213"/>
<rect x="224.50" y="145.40" width="3" height="1.2" fill="#3a3d40"/>
<rect x="228.10" y="145.40" width="3" height="1.2" fill="#8c3142"/>
<rect x="224.50" y="147.50" width="3" height="1.2" fill="#3a3d40"/>
<rect x="228.10" y="147.50" width="3" height="1.2" fill="#8c3142"/>
<rect x="224.50" y="149.60" width="3" height="1.2" fill="#3a3d40"/>
<rect x="228.10" y="149.60" width="3" height="1.2" fill="#8c3142"/>
<rect x="224.50" y="151.70" width="3" height="1.2" fill="#3a3d40"/>
<rect x="228.10" y="151.70" width="3" height="1.2" fill="#8c3142"/>
<rect x="224.50" y="153.80" width="3" height="1.2" fill="#3a3d40"/>
<rect x="228.10" y="153.80" width="3" height="1.2" fill="#8c3142"/>
<rect x="224.50" y="155.90" width="3" height="1.2" fill="#3a3d40"/>
<rect x="228.10" y="155.90" width="3" height="1.2" fill="#8c3142"/>
<rect x="224.50" y="158.00" width="3" height="1.2" fill="#3a3d40"/>
<rect x="228.10" y="158.00" width="3" height="1.2" fill="#8c3142"/>
<rect x="224.50" y="160.10" width="3" height="1.2" fill="#3a3d40"/>
<rect x="228.10" y="160.10" width="3" height="1.2" fill="#8c3142"/>
<rect x="224.50" y="162.20" width="3" height="1.2" fill="#3a3d40"/>
<rect x="228.10" y="162.20" width="3" height="1.2" fill="#8c3142"/>
</g>
<g>
<path d="M319.20000000000005 143.4 l6.2 1.9 v17.4 l-6.2 2.3 z" fill="#343436"/>
<path d="M321.20000000000005 144.6 l1 0.3 v19.2 l-1 0.4 z" fill="#4c4c4f"/>
<path d="M323.6 145.4 l0.8 0.3 v17.4 l-0.8 0.3 z" fill="#48484b"/>
<rect x="308.6" y="143.4" width="10.8" height="21.6" rx="0.5" fill="#121213"/>
<rect x="311.20" y="145.40" width="3" height="1.2" fill="#3a3d40"/>
<rect x="314.80" y="145.40" width="3" height="1.2" fill="#8c3142"/>
<rect x="311.20" y="147.50" width="3" height="1.2" fill="#3a3d40"/>
<rect x="314.80" y="147.50" width="3" height="1.2" fill="#8c3142"/>
<rect x="311.20" y="149.60" width="3" height="1.2" fill="#3a3d40"/>
<rect x="314.80" y="149.60" width="3" height="1.2" fill="#8c3142"/>
<rect x="311.20" y="151.70" width="3" height="1.2" fill="#3a3d40"/>
<rect x="314.80" y="151.70" width="3" height="1.2" fill="#8c3142"/>
<rect x="311.20" y="153.80" width="3" height="1.2" fill="#3a3d40"/>
<rect x="314.80" y="153.80" width="3" height="1.2" fill="#8c3142"/>
<rect x="311.20" y="155.90" width="3" height="1.2" fill="#3a3d40"/>
<rect x="314.80" y="155.90" width="3" height="1.2" fill="#8c3142"/>
<rect x="311.20" y="158.00" width="3" height="1.2" fill="#3a3d40"/>
<rect x="314.80" y="158.00" width="3" height="1.2" fill="#8c3142"/>
<rect x="311.20" y="160.10" width="3" height="1.2" fill="#3a3d40"/>
<rect x="314.80" y="160.10" width="3" height="1.2" fill="#8c3142"/>
<rect x="311.20" y="162.20" width="3" height="1.2" fill="#3a3d40"/>
<rect x="314.80" y="162.20" width="3" height="1.2" fill="#8c3142"/>
</g>
<g>
<path d="M266.4 149 v-4.2 q0 -1.6 1.8 -1.6 h1.8 q1.4 0 1.6 1.6 h2.4 q1.6 0 1.6 1.6 v2.6 z" fill="#e01428"/>
<path d="M264.4 149 q0 -1.4 1.3 -1.4 h12 q1.4 0 1.4 1.3 v15.6 q0 1.1 -1.1 1.2 l-12.3 0.6 q-1.3 0 -1.3 -1.3 z" fill="#0a0f1e"/>
<rect x="265.4" y="148.4" width="12.6" height="1" fill="#1a2a4a"/>
<circle cx="273" cy="155.8" r="3.9" fill="#1d3f78"/>
<circle cx="273" cy="155.8" r="2.9" fill="#ecdccb"/>
<circle cx="273" cy="155.8" r="1.9" fill="#08080a"/>
<path d="M270.4 154.4 a3 3 0 0 1 4.4 -1.4" fill="none" stroke="#de7a2c" stroke-width="0.9"/>
<rect x="266" y="161.6" width="12" height="0.5" fill="#27324e"/>
</g>
<g>
<path d="M290.6 193.8 h51.2 l4.5 3.3 h-61.3 z" fill="#3f454e"/>
<rect x="290.6" y="193.8" width="51.2" height="0.6" fill="#6a717b"/>
<rect x="285" y="197" width="61.3" height="17.3" fill="#15171b"/>
<rect x="285" y="197" width="3.2" height="17.3" fill="#3a3d43"/>
<rect x="343.1" y="197" width="3.2" height="17.3" fill="#3a3d43"/>
<rect x="289.60" y="197.6" width="0.45" height="15.6" fill="#3b3f46"/>
<rect x="292.15" y="197.6" width="0.45" height="15.6" fill="#3b3f46"/>
<rect x="294.70" y="197.6" width="0.45" height="15.6" fill="#3b3f46"/>
<rect x="297.25" y="197.6" width="0.45" height="15.6" fill="#3b3f46"/>
<rect x="299.80" y="197.6" width="0.45" height="15.6" fill="#3b3f46"/>
<rect x="302.35" y="197.6" width="0.45" height="15.6" fill="#3b3f46"/>
<rect x="304.90" y="197.6" width="0.45" height="15.6" fill="#3b3f46"/>
<rect x="307.45" y="197.6" width="0.45" height="15.6" fill="#3b3f46"/>
<rect x="310.00" y="197.6" width="0.45" height="15.6" fill="#3b3f46"/>
<rect x="312.55" y="197.6" width="0.45" height="15.6" fill="#3b3f46"/>
<rect x="315.10" y="197.6" width="0.45" height="15.6" fill="#3b3f46"/>
<rect x="317.65" y="197.6" width="0.45" height="15.6" fill="#3b3f46"/>
<rect x="320.20" y="197.6" width="0.45" height="15.6" fill="#3b3f46"/>
<rect x="322.75" y="197.6" width="0.45" height="15.6" fill="#3b3f46"/>
<rect x="325.30" y="197.6" width="0.45" height="15.6" fill="#3b3f46"/>
<rect x="327.85" y="197.6" width="0.45" height="15.6" fill="#3b3f46"/>
<rect x="330.40" y="197.6" width="0.45" height="15.6" fill="#3b3f46"/>
<rect x="332.95" y="197.6" width="0.45" height="15.6" fill="#3b3f46"/>
<rect x="335.50" y="197.6" width="0.45" height="15.6" fill="#3b3f46"/>
<rect x="338.05" y="197.6" width="0.45" height="15.6" fill="#3b3f46"/>
<rect x="290.50" y="205.2" width="1.5" height="1.7" fill="#e04a55"/>
<rect x="293.05" y="205.2" width="1.5" height="1.7" fill="#e04a55"/>
<rect x="295.60" y="205.2" width="1.5" height="1.7" fill="#e04a55"/>
<rect x="298.15" y="205.2" width="1.5" height="1.7" fill="#e04a55"/>
<rect x="300.70" y="205.2" width="1.5" height="1.7" fill="#e04a55"/>
<rect x="303.25" y="205.2" width="1.5" height="1.7" fill="#e04a55"/>
<rect x="305.80" y="205.2" width="1.5" height="1.7" fill="#e04a55"/>
<rect x="308.35" y="205.2" width="1.5" height="1.7" fill="#e04a55"/>
<rect x="310.90" y="205.2" width="1.5" height="1.7" fill="#e04a55"/>
<rect x="313.45" y="205.2" width="1.5" height="1.7" fill="#e04a55"/>
<rect x="316.00" y="205.2" width="1.5" height="1.7" fill="#e04a55"/>
<rect x="318.55" y="205.2" width="1.5" height="1.7" fill="#e04a55"/>
<rect x="321.10" y="205.2" width="1.5" height="1.7" fill="#e04a55"/>
<rect x="323.65" y="205.2" width="1.5" height="1.7" fill="#e04a55"/>
<rect x="326.20" y="205.2" width="1.5" height="1.7" fill="#e04a55"/>
<rect x="328.75" y="205.2" width="1.5" height="1.7" fill="#e04a55"/>
<rect x="335" y="199" width="7" height="13" fill="#1d2026"/>
<circle cx="286.6" cy="199.5" r="0.6" fill="#c8c8c8"/><circle cx="286.6" cy="211.3" r="0.6" fill="#c8c8c8"/>
<circle cx="344.7" cy="199.5" r="0.6" fill="#c8c8c8"/><circle cx="344.7" cy="211.3" r="0.6" fill="#c8c8c8"/>
</g>
<g>
<rect x="230.20" y="210.20" width="33" height="19.90" fill="#ffffff"/>
<rect x="229.90" y="211.60" width="4.3" height="17.80" fill="#a4aab0"/>
<rect x="232.70" y="211.60" width="1.4" height="17.80" fill="#8b9299"/>
<rect x="235.00" y="209.90" width="5.6" height="1.9" fill="#3d8f3c"/>
<rect x="234.00" y="211.40" width="8.6" height="18.3" fill="#1a3484"/>
<rect x="238.40" y="212.40" width="3.8" height="15.60" fill="#3b3d42"/>
<rect x="239.20" y="219.40" width="2.2" height="6" fill="#55585c"/>
<rect x="234.50" y="212.00" width="3.6" height="4.6" fill="#101c4e"/>
<rect x="235.50" y="218.20" width="2" height="1.3" fill="#a59f90"/>
<rect x="235.50" y="220.90" width="2" height="1.3" fill="#a59f90"/>
<rect x="235.50" y="223.60" width="2" height="1.3" fill="#a59f90"/>
<rect x="235.50" y="226.30" width="2" height="1.3" fill="#a59f90"/>
<rect x="234.00" y="228.60" width="8.6" height="1.1" fill="#13256a"/>
<rect x="245.50" y="209.15" width="5.6" height="1.9" fill="#3d8f3c"/>
<rect x="244.50" y="210.65" width="8.6" height="18.3" fill="#1a3484"/>
<rect x="248.90" y="211.65" width="3.8" height="15.60" fill="#3b3d42"/>
<rect x="249.70" y="218.65" width="2.2" height="6" fill="#55585c"/>
<rect x="245.00" y="211.25" width="3.6" height="4.6" fill="#101c4e"/>
<rect x="246.00" y="217.45" width="2" height="1.3" fill="#a59f90"/>
<rect x="246.00" y="220.15" width="2" height="1.3" fill="#a59f90"/>
<rect x="246.00" y="222.85" width="2" height="1.3" fill="#a59f90"/>
<rect x="246.00" y="225.55" width="2" height="1.3" fill="#a59f90"/>
<rect x="244.50" y="227.85" width="8.6" height="1.1" fill="#13256a"/>
<rect x="256.00" y="208.40" width="5.6" height="1.9" fill="#3d8f3c"/>
<rect x="255.00" y="209.90" width="8.6" height="18.3" fill="#1a3484"/>
<rect x="259.40" y="210.90" width="3.8" height="15.60" fill="#3b3d42"/>
<rect x="260.20" y="217.90" width="2.2" height="6" fill="#55585c"/>
<rect x="255.50" y="210.50" width="3.6" height="4.6" fill="#101c4e"/>
<rect x="256.50" y="216.70" width="2" height="1.3" fill="#a59f90"/>
<rect x="256.50" y="219.40" width="2" height="1.3" fill="#a59f90"/>
<rect x="256.50" y="222.10" width="2" height="1.3" fill="#a59f90"/>
<rect x="256.50" y="224.80" width="2" height="1.3" fill="#a59f90"/>
<rect x="255.00" y="227.10" width="8.6" height="1.1" fill="#13256a"/>
</g>
<g>
<rect x="381.30" y="213.10" width="33" height="19.20" fill="#ffffff"/>
<rect x="381.00" y="214.50" width="4.3" height="17.10" fill="#a4aab0"/>
<rect x="383.80" y="214.50" width="1.4" height="17.10" fill="#8b9299"/>
<rect x="385.60" y="212.80" width="5.6" height="1.9" fill="#3d8f3c"/>
<rect x="384.60" y="214.30" width="8.6" height="17.6" fill="#1a3484"/>
<rect x="389.00" y="215.30" width="3.8" height="14.90" fill="#3b3d42"/>
<rect x="389.80" y="222.30" width="2.2" height="6" fill="#55585c"/>
<rect x="385.10" y="214.90" width="3.6" height="4.6" fill="#101c4e"/>
<rect x="386.10" y="221.10" width="2" height="1.3" fill="#a59f90"/>
<rect x="386.10" y="223.80" width="2" height="1.3" fill="#a59f90"/>
<rect x="386.10" y="226.50" width="2" height="1.3" fill="#a59f90"/>
<rect x="386.10" y="229.20" width="2" height="1.3" fill="#a59f90"/>
<rect x="384.60" y="230.80" width="8.6" height="1.1" fill="#13256a"/>
<rect x="396.80" y="212.55" width="5.6" height="1.9" fill="#3d8f3c"/>
<rect x="395.80" y="214.05" width="8.6" height="17.6" fill="#1a3484"/>
<rect x="400.20" y="215.05" width="3.8" height="14.90" fill="#3b3d42"/>
<rect x="401.00" y="222.05" width="2.2" height="6" fill="#55585c"/>
<rect x="396.30" y="214.65" width="3.6" height="4.6" fill="#101c4e"/>
<rect x="397.30" y="220.85" width="2" height="1.3" fill="#a59f90"/>
<rect x="397.30" y="223.55" width="2" height="1.3" fill="#a59f90"/>
<rect x="397.30" y="226.25" width="2" height="1.3" fill="#a59f90"/>
<rect x="397.30" y="228.95" width="2" height="1.3" fill="#a59f90"/>
<rect x="395.80" y="230.55" width="8.6" height="1.1" fill="#13256a"/>
<rect x="407.00" y="212.30" width="5.6" height="1.9" fill="#3d8f3c"/>
<rect x="406.00" y="213.80" width="8.6" height="17.6" fill="#1a3484"/>
<rect x="410.40" y="214.80" width="3.8" height="14.90" fill="#3b3d42"/>
<rect x="411.20" y="221.80" width="2.2" height="6" fill="#55585c"/>
<rect x="406.50" y="214.40" width="3.6" height="4.6" fill="#101c4e"/>
<rect x="407.50" y="220.60" width="2" height="1.3" fill="#a59f90"/>
<rect x="407.50" y="223.30" width="2" height="1.3" fill="#a59f90"/>
<rect x="407.50" y="226.00" width="2" height="1.3" fill="#a59f90"/>
<rect x="407.50" y="228.70" width="2" height="1.3" fill="#a59f90"/>
<rect x="406.00" y="230.30" width="8.6" height="1.1" fill="#13256a"/>
</g>
<g>
<path d="M239.9 266.2 v-2 l1.4 -1 v-2.2 l1 -1.6 h12.6 l1 1.6 v2.2 l1.4 1 v2 z" fill="#b3b8be"/>
<rect x="240.9" y="260.20" width="15.6" height="1" rx="0.5" fill="#8f959c"/>
<rect x="240.1" y="262.30" width="17.2" height="1" rx="0.5" fill="#8f959c"/>
<rect x="240.1" y="264.40" width="17.2" height="1" rx="0.5" fill="#8f959c"/>
<rect x="231.3" y="270.6" width="3.4" height="2.6" fill="#cfa544"/>
<rect x="231.3" y="283.6" width="3.4" height="2.6" fill="#cfa544"/>
<rect x="232.3" y="269.4" width="0.9" height="21.6" fill="#c9a24a"/>
<rect x="262.1" y="286.4" width="1.8" height="2.6" fill="#26282c"/>
<rect x="234.5" y="266" width="28.2" height="25.6" rx="0.6" fill="url(#g10g)" stroke="#878d95" stroke-width="0.9"/>
<rect x="236.1" y="267.6" width="25" height="22.40" fill="none" stroke="#e6e9ec" stroke-width="0.5" opacity="0.8"/>
<rect x="244.2" y="271.8" width="9.8" height="5.6" fill="#121417" stroke="#f1f2f4" stroke-width="0.6"/>
<rect x="242.1" y="283.80" width="14" height="2.6" fill="#e2b468"/>
<rect x="242.1" y="283.80" width="3" height="2.6" fill="#cf9040"/>
</g>
<g>
<path d="M345.7 264.7 v-2 l1.4 -1 v-2.2 l1 -1.6 h12.6 l1 1.6 v2.2 l1.4 1 v2 z" fill="#b3b8be"/>
<rect x="346.70000000000005" y="258.70" width="15.6" height="1" rx="0.5" fill="#8f959c"/>
<rect x="345.90000000000003" y="260.80" width="17.2" height="1" rx="0.5" fill="#8f959c"/>
<rect x="345.90000000000003" y="262.90" width="17.2" height="1" rx="0.5" fill="#8f959c"/>
<rect x="337.1" y="269.1" width="3.4" height="2.6" fill="#cfa544"/>
<rect x="337.1" y="282.1" width="3.4" height="2.6" fill="#cfa544"/>
<rect x="338.1" y="267.9" width="0.9" height="21.6" fill="#c9a24a"/>
<rect x="367.90000000000003" y="284.9" width="1.8" height="2.6" fill="#26282c"/>
<rect x="340.3" y="264.5" width="28.2" height="26.7" rx="0.6" fill="url(#g10g)" stroke="#878d95" stroke-width="0.9"/>
<rect x="341.90000000000003" y="266.1" width="25" height="23.50" fill="none" stroke="#e6e9ec" stroke-width="0.5" opacity="0.8"/>
<rect x="350.0" y="270.3" width="9.8" height="5.6" fill="#121417" stroke="#f1f2f4" stroke-width="0.6"/>
<rect x="347.90000000000003" y="283.40" width="14" height="2.6" fill="#e2b468"/>
<rect x="347.90000000000003" y="283.40" width="3" height="2.6" fill="#cf9040"/>
</g>
<g>
<rect x="358" y="138" width="68.2" height="31.4" rx="0.8" fill="#0a0c0a"/>
<rect x="360.7" y="140.3" width="61.60" height="27.00" fill="#062412" stroke="#2fd968" stroke-width="0.6"/>
<rect x="360.7" y="143.43" width="61.60" height="0.5" fill="#28c860"/>
<rect x="360.7" y="146.80" width="61.60" height="0.5" fill="#28c860"/>
<rect x="360.7" y="150.18" width="61.60" height="0.5" fill="#28c860"/>
<rect x="360.7" y="153.55" width="61.60" height="0.5" fill="#28c860"/>
<rect x="360.7" y="156.93" width="61.60" height="0.5" fill="#28c860"/>
<rect x="360.7" y="160.30" width="61.60" height="0.5" fill="#28c860"/>
<rect x="360.7" y="163.68" width="61.60" height="0.5" fill="#28c860"/>
<rect x="383.05" y="147.05" width="0.5" height="20.25" fill="#28c860"/>
<rect x="397.05" y="147.05" width="0.5" height="20.25" fill="#28c860"/>
<rect x="407.75" y="147.05" width="0.5" height="20.25" fill="#28c860"/>
<rect x="415.05" y="147.05" width="0.5" height="20.25" fill="#28c860"/>
<path d="M362.50 141.99 H385.00" stroke="#3cf07a" stroke-width="2.08" stroke-dasharray="1.7 0.5" fill="none"/>
<path d="M387.00 141.99 H392.00" stroke="#2bd866" stroke-width="2.08" stroke-dasharray="1.7 0.5" fill="none"/>
<path d="M394.00 141.99 H416.00" stroke="#3cf07a" stroke-width="2.08" stroke-dasharray="1.7 0.5" fill="none"/>
<path d="M418.00 141.99 H421.50" stroke="#2bd866" stroke-width="2.08" stroke-dasharray="1.7 0.5" fill="none"/>
<path d="M383.50 145.36 H398.50" stroke="#3cf07a" stroke-width="2.08" stroke-dasharray="1.7 0.5" fill="none"/>
<path d="M367.00 148.74 H378.00" stroke="#3cf07a" stroke-width="2.08" stroke-dasharray="1.7 0.5" fill="none"/>
<path d="M385.50 148.74 H395.50" stroke="#3cf07a" stroke-width="2.08" stroke-dasharray="1.7 0.5" fill="none"/>
<path d="M399.00 148.74 H406.50" stroke="#3cf07a" stroke-width="2.08" stroke-dasharray="1.7 0.5" fill="none"/>
<path d="M409.60 148.74 H414.00" stroke="#3cf07a" stroke-width="2.08" stroke-dasharray="1.7 0.5" fill="none"/>
<path d="M416.60 148.74 H421.20" stroke="#3cf07a" stroke-width="2.08" stroke-dasharray="1.7 0.5" fill="none"/>
<path d="M366.50 152.11 H377.50" stroke="#3cf07a" stroke-width="2.08" stroke-dasharray="1.7 0.5" fill="none"/>
<path d="M388.30 152.11 H392.30" stroke="#2fd868" stroke-width="2.08" stroke-dasharray="1.7 0.5" fill="none"/>
<path d="M401.00 152.11 H404.40" stroke="#2fd868" stroke-width="2.08" stroke-dasharray="1.7 0.5" fill="none"/>
<path d="M410.60 152.11 H413.00" stroke="#2fd868" stroke-width="2.08" stroke-dasharray="1.7 0.5" fill="none"/>
<path d="M417.60 152.11 H420.00" stroke="#2fd868" stroke-width="2.08" stroke-dasharray="1.7 0.5" fill="none"/>
<path d="M365.00 155.49 H379.00" stroke="#3cf07a" stroke-width="2.08" stroke-dasharray="1.7 0.5" fill="none"/>
<path d="M388.30 155.49 H392.30" stroke="#2fd868" stroke-width="2.08" stroke-dasharray="1.7 0.5" fill="none"/>
<path d="M401.00 155.49 H404.40" stroke="#2fd868" stroke-width="2.08" stroke-dasharray="1.7 0.5" fill="none"/>
<path d="M410.60 155.49 H413.00" stroke="#2fd868" stroke-width="2.08" stroke-dasharray="1.7 0.5" fill="none"/>
<path d="M417.60 155.49 H420.00" stroke="#2fd868" stroke-width="2.08" stroke-dasharray="1.7 0.5" fill="none"/>
<path d="M367.50 158.86 H376.50" stroke="#3cf07a" stroke-width="2.08" stroke-dasharray="1.7 0.5" fill="none"/>
<path d="M388.30 158.86 H392.30" stroke="#2fd868" stroke-width="2.08" stroke-dasharray="1.7 0.5" fill="none"/>
<path d="M401.00 158.86 H404.40" stroke="#2fd868" stroke-width="2.08" stroke-dasharray="1.7 0.5" fill="none"/>
<path d="M410.60 158.86 H413.00" stroke="#2fd868" stroke-width="2.08" stroke-dasharray="1.7 0.5" fill="none"/>
<path d="M417.60 158.86 H420.00" stroke="#2fd868" stroke-width="2.08" stroke-dasharray="1.7 0.5" fill="none"/>
<path d="M364.50 162.24 H380.00" stroke="#3cf07a" stroke-width="2.08" stroke-dasharray="1.7 0.5" fill="none"/>
<path d="M388.30 162.24 H392.30" stroke="#2fd868" stroke-width="2.08" stroke-dasharray="1.7 0.5" fill="none"/>
<path d="M401.00 162.24 H404.40" stroke="#2fd868" stroke-width="2.08" stroke-dasharray="1.7 0.5" fill="none"/>
<path d="M410.60 162.24 H413.00" stroke="#2fd868" stroke-width="2.08" stroke-dasharray="1.7 0.5" fill="none"/>
<path d="M417.60 162.24 H420.00" stroke="#2fd868" stroke-width="2.08" stroke-dasharray="1.7 0.5" fill="none"/>
<path d="M363.50 165.61 H381.00" stroke="#3cf07a" stroke-width="2.08" stroke-dasharray="1.7 0.5" fill="none"/>
<path d="M388.30 165.61 H392.30" stroke="#2fd868" stroke-width="2.08" stroke-dasharray="1.7 0.5" fill="none"/>
<path d="M401.00 165.61 H404.40" stroke="#2fd868" stroke-width="2.08" stroke-dasharray="1.7 0.5" fill="none"/>
<path d="M410.60 165.61 H413.00" stroke="#2fd868" stroke-width="2.08" stroke-dasharray="1.7 0.5" fill="none"/>
<path d="M417.60 165.61 H420.00" stroke="#2fd868" stroke-width="2.08" stroke-dasharray="1.7 0.5" fill="none"/>
</g>
<g>
<rect x="455.3" y="139.2" width="25.4" height="15.2" fill="url(#gIris)"/>
<rect x="455.3" y="139.2" width="25.4" height="1.6" fill="#176476" opacity="0.6"/>
<rect x="455.3" y="152.4" width="25.4" height="2" fill="#7fc6d2" opacity="0.55"/>
<path d="M457.6 147.8 Q465 141.6 474.4 147 Q466.4 152.6 457.6 147.8 Z" fill="#0f4a5c" opacity="0.9"/>
<circle cx="466" cy="147.2" r="2.9" fill="#32c4e2"/>
<circle cx="466" cy="147.2" r="1.4" fill="#05222c"/>
<path d="M457 143.6 Q466 139.6 475.4 144" fill="none" stroke="#15606f" stroke-width="0.9" opacity="0.75"/>
</g>
<g>
<rect x="434.5" y="157.8" width="25.3" height="16" fill="#0a0c0d"/>
<rect x="435.5" y="158.8" width="23.3" height="14" fill="#21403f"/>
<rect x="435.5" y="158.8" width="23.3" height="3" fill="#152a2b" opacity="0.8"/>
<ellipse cx="447.1" cy="165.2" rx="3.7" ry="4" fill="#a94f5e" opacity="0.9"/>
<path d="M443.2 161.6 q3.9 -2.2 7.8 0" fill="none" stroke="#4fb3ad" stroke-width="0.5"/>
<path d="M437.4 171.6 q5 -1.6 6.6 -4.6 M456.8 171.6 q-5 -1.6 -6.6 -4.6" fill="none" stroke="#5aa9a3" stroke-width="0.6"/>
<path d="M443.6 168.4 q3.5 3.4 7 0" fill="none" stroke="#7fd8cc" stroke-width="0.9"/>
</g>
<g>
<rect x="475.7" y="158" width="24.4" height="15.2" fill="#0a0a0a"/>
<path d="M477.2 160.6 l4.8 -1.8 l1.8 12.2 l-5 1.4 z" fill="#e6e9ec"/>
<rect x="484.4" y="161" width="6.6" height="10.8" fill="#25311f"/>
<rect x="484.6" y="160.4" width="6.2" height="2.6" fill="#5fd04f"/>
<path d="M500.1 162.2 q-5 -1.4 -9.4 0.4 q-0.6 1.6 1 2 q4 -0.6 8.4 1 z" fill="#e4b296"/>
<path d="M500.1 165.6 q-4 -0.6 -6 1.6 q-0.4 3 2 4.4 q2 0.8 4 0.2 z" fill="#b5433a"/>
<circle cx="496.8" cy="168.6" r="1.3" fill="#f0d8cc"/>
</g>
<g>
<rect x="465.6" y="208.2" width="10.6" height="8.8" rx="1" fill="#e9edf2" stroke="#b9c0c9" stroke-width="0.5"/>
<rect x="468" y="209.2" width="3.6" height="6.8" fill="#506c98"/>
<rect x="477.8" y="208.2" width="10.2" height="8.8" rx="1" fill="#e9edf2" stroke="#b9c0c9" stroke-width="0.5"/>
<rect x="482.6" y="209.2" width="3.4" height="6.8" fill="#506c98"/>
<path d="M449 204.7 L463.8 200.6 L465.5 200.9 L466 219.4 L460.4 234.4 L452.8 234.6 Z" fill="#7b818a"/>
<path d="M449 204.7 L451.8 205 L455.2 234.5 L452.8 234.6 Z" fill="#a3a9b1"/>
<path d="M449 204.7 L463.8 200.6 L465.5 200.9 L451.8 205.3 Z" fill="#9aa0a8"/>
<path d="M453.4 206.6 L464 203.2 L464.6 218.8 L459 231 L456 231.2 Z" fill="#666c75"/>
<path d="M455.2 208.6 L462.6 206.2 L463 217.8 L458.6 226.6 L457 226.6 Z" fill="#7a808a"/>
<path d="M488 200.9 L489.8 200.6 L504.8 204.9 L502 233.8 L494.8 233.8 L489 220.4 Z" fill="#7b818a"/>
<path d="M498 204.9 L504.8 204.9 L502 233.8 L499.6 233.8 Z" fill="#9299a2"/>
<path d="M488 200.9 L489.8 200.6 L504.8 204.9 L498 205.2 Z" fill="#9aa0a8"/>
<path d="M489.4 203.2 L497 205.4 L498 230 L490.4 219.4 Z" fill="#636972"/>
<path d="M490.8 206 L495.6 207.4 L496.2 224.6 L491.4 217.6 Z" fill="#767c86"/>
<rect x="496.7" y="190.8" width="4.6" height="10.8" rx="0.8" fill="#15171a"/>
<rect x="497.6" y="192.6" width="2.8" height="2.2" fill="#8a4a36"/>
<rect x="497.6" y="195.4" width="2.8" height="4.6" fill="#36b44c"/>
</g>
<g>
<rect x="285.6" y="343.8" width="3.6" height="1.4" fill="#2668bd"/><rect x="311.8" y="343.8" width="3.6" height="1.4" fill="#2668bd"/>
<rect x="326" y="349.6" width="3.6" height="1.7" fill="#1d1f24"/>
<rect x="326" y="353.4" width="3.6" height="1.7" fill="#1d1f24"/>
<rect x="326" y="357.2" width="3.6" height="1.7" fill="#1d1f24"/>
<rect x="275.4" y="344.7" width="51" height="18" rx="0.8" fill="#3182e6"/>
<rect x="276.2" y="345.5" width="49.4" height="1.6" fill="#4f9bee"/>
<rect x="276.2" y="360.4" width="49.4" height="1.6" fill="#1f61b6"/>
<rect x="279.5" y="348.6" width="42.4" height="10.5" fill="#0f0d0e"/>
<text x="286.8" y="356.2" font-size="6.9" font-weight="700" textLength="27.8" lengthAdjust="spacing" fill="#d4202c">防冲限员</text>
<rect x="315.6" y="351.4" width="4.6" height="4.6" fill="#4a1216" opacity="0.7"/>
</g>
<path d="M302.20 362.70 L302.20 390.40" fill="none" stroke="#666" stroke-width="1.1"/>
<g>
<rect x="309.9" y="384.2" width="1.1" height="12.4" fill="#2e2e2e"/>
<rect x="301.2" y="404.8" width="4.2" height="2.8" fill="#bdb9aa"/>
<rect x="296.2" y="392" width="1.4" height="3" fill="#b8b4a6"/><rect x="296.2" y="400" width="1.4" height="3" fill="#b8b4a6"/>
<rect x="297" y="390.3" width="11.8" height="14.8" rx="1" fill="#ebe7d9" stroke="#bfbbad" stroke-width="0.6"/>
<circle cx="303.3" cy="395.8" r="2.6" fill="#d3cfc2" stroke="#b4b0a3" stroke-width="0.5"/>
<circle cx="303.3" cy="395.8" r="1.1" fill="#bcb8ab"/>
</g>
<g>
<path d="M292.4 448.6 l3 -3.6 h18.2 l1.6 1.6 l-6 2.6 z" fill="#d9851a"/>
<path d="M292.4 448.6 h16.8 l6 -2.4 v0.8 l-6 2.4 h-16.8 z" fill="#b8690f"/>
<path d="M295.5 411.4 L313.5 411.4 L313.5 444.2 L303.4 446.2 L295.5 446.2 Z" fill="#f2a126"/>
<path d="M295.5 411.4 L302.6 411.9 L302.6 446.2 L295.5 446.2 Z" fill="#e58f1c"/>
<rect x="295.5" y="411.4" width="18" height="1" fill="#f7b94e"/>
<rect x="303.4" y="420.2" width="10" height="0.6" fill="#d4821a"/>
<rect x="304.2" y="414.6" width="5" height="0.8" fill="#b96a12"/>
<rect x="304.4" y="421.6" width="8.2" height="21" fill="#f5a830" opacity="0.7"/>
<rect x="296.6" y="442.4" width="2.4" height="2.4" fill="#f4efe4"/>
<path d="M308 416.1 h6 l24.2 0.9 v1.5 l-24.2 1 h-6 z" fill="#f6c22a"/>
<rect x="308" y="416.1" width="5.4" height="3.4" fill="#fbf9f3"/>
<rect x="321.6" y="417" width="1.6" height="1.6" fill="#8a8a7a"/>
<rect x="325" y="417" width="1.6" height="1.6" fill="#8a8a7a"/>
<rect x="335.6" y="417" width="1.6" height="1.6" fill="#8a8a7a"/>
</g>
<g>
<rect x="16" y="429.8" width="23.3" height="16.2" rx="0.6" fill="#f9d028"/>
<rect x="16" y="442.8" width="23.3" height="3.2" rx="0.6" fill="#f5c22e"/>
<rect x="17.5" y="431.3" width="20.3" height="10.6" fill="#f8e661"/>
<circle cx="20.2" cy="433.8" r="1.1" fill="#3b67c4"/>
<rect x="22.4" y="433.40000000000003" width="9" height="0.7" fill="#9cc45e"/>
<circle cx="34" cy="434.2" r="0.8" fill="#d8584a"/>
<rect x="19" y="437.2" width="2.4" height="1.6" fill="#4a4a3a"/>
<rect x="23" y="437.2" width="6" height="0.7" fill="#b4c45a"/>
<rect x="27.6" y="438.40000000000003" width="7.4" height="1.8" fill="#fdfcf2"/>
</g>
<g>
<path d="M59.9 430.8 h18 q3.4 0 3.4 3.4 v9.6 q0 3.4 -3.4 3.4 h-18 q-3.4 0 -3.4 -3.4 v-9.6 q0 -3.4 3.4 -3.4 z" fill="#17181b"/>
<rect x="63.7" y="434.8" width="11.2" height="7.8" rx="0.8" fill="#2a2f3a"/>
<rect x="64.7" y="435.8" width="9.2" height="5.8" fill="#1c2029"/>
<circle cx="60.1" cy="441.7" r="2.2" fill="#d6364c"/>
<circle cx="77.9" cy="441.7" r="2.2" fill="#3dbb72"/>
<rect x="76.3" y="435.40000000000003" width="1" height="2.4" fill="#3a7a4a"/>
<rect x="78.3" y="435.40000000000003" width="0.8" height="2.4" fill="#8a3a3a"/>
</g>
<g>
<path d="M102.50 437.30 C103.10 431.90 105.50 428.50 108.30 428.50 C110.30 428.50 111.70 429.70 112.10 431.70" fill="none" stroke="#1a1a1a" stroke-width="1.3"/>
<path d="M111.90 431.10 L112.50 434.30" fill="none" stroke="#ee5a1a" stroke-width="1.5"/>
<path d="M100.30 443.30 C101.90 446.30 108.50 446.10 109.50 443.50" fill="none" stroke="#1a1a1a" stroke-width="1.2"/>
<rect x="108.90" y="434.1" width="10.8" height="9.8" rx="0.7" fill="#ee5118"/>
<rect x="109.70" y="434.90000000000003" width="9.2" height="0.9" fill="#f47a3c"/>
<rect x="119.30" y="435.5" width="1.4" height="3" fill="#ee5118"/>
<rect x="110.90" y="437.70000000000005" width="6.6" height="4.4" fill="#dc4316"/>
<path d="M101.70 437.10 l2.8 0.8 v3.6 l-2.6 1.2 z" fill="#2c2c2c"/>
<ellipse cx="99.50" cy="439.8" rx="3.3" ry="3.8" fill="#f07a1a"/>
<ellipse cx="98.90" cy="440.1" rx="1.6" ry="2" fill="#e4edf4"/>
<circle cx="98.90" cy="440.3" r="0.8" fill="#8fb8dc"/>
</g>
<g>
<path d="M142.9 433.5 l1.4 -3.2 h4.6 l1.6 3.2 z" fill="#1d2224"/>
<path d="M143.3 443.5 l1.6 3.8 h4.6 l1.6 -3.8 z" fill="#1d2224"/>
<circle cx="146.3" cy="438.5" r="7" fill="#15191b"/>
<circle cx="146.3" cy="438.5" r="5.3" fill="#1c2a28" stroke="#3f5a55" stroke-width="0.8"/>
<path d="M146.3 438.5 l2.6 -2.8 M146.3 438.5 l-3 0.6" stroke="#aeb8b4" stroke-width="0.5" fill="none"/>
<rect x="152.9" y="436.3" width="1.2" height="1.6" fill="#2a2f32"/>
<path d="M147.10000000000002 441.7 l1.6 3.4" stroke="#e4e8e6" stroke-width="0.9"/>
</g>
<g>
<path d="M176.6 421.3 h9.8 q1.2 0 1.2 1.2 v9.8 q0 2 -0.8 3.6 q-0.6 1.4 -0.6 3 v9 q0 1.6 -1.6 1.6 h-6 q-1.6 0 -1.6 -1.6 v-9 q0 -1.6 -0.7 -3 q-0.7 -1.6 -0.7 -3.6 v-9.8 q0 -1.2 1 -1.2 z" fill="#1b1b1d"/>
<rect x="177.6" y="422.90000000000003" width="8" height="11" rx="0.6" fill="#2c2c2f"/>
<rect x="178.4" y="436.90000000000003" width="6.6" height="10" fill="#252527"/>
<rect x="181.4" y="436.90000000000003" width="0.5" height="10" fill="#3e3e42"/>
<rect x="178.4" y="441.3" width="6.6" height="0.5" fill="#3e3e42"/>
</g>
<g>
<path d="M213.3 422.0 Q217.70000000000002 420.2 222.10000000000002 422.0 Q225.10000000000002 423.59999999999997 224.9 427.4 L224.10000000000002 447.0 Q224.0 448.79999999999995 222.3 448.79999999999995 H213.10000000000002 Q211.4 448.79999999999995 211.3 447.0 L210.5 427.4 Q210.3 423.59999999999997 213.3 422.0 Z" fill="#f7d91e"/>
<circle cx="214.10000000000002" cy="428.0" r="1.5" fill="#fbfaf3"/>
<circle cx="217.70000000000002" cy="424.79999999999995" r="1.5" fill="#fbfaf3"/>
<circle cx="221.3" cy="428.0" r="1.5" fill="#fbfaf3"/>
<circle cx="217.70000000000002" cy="431.2" r="1.6" fill="#2b3e74"/>
<circle cx="217.70000000000002" cy="428.0" r="0.7" fill="#5a4a1a"/>
<rect x="213.3" y="436.0" width="8.8" height="7.8" rx="0.6" fill="#3a3f49"/>
<rect x="214.10000000000002" y="436.79999999999995" width="7.2" height="6.2" fill="#2a6fd0"/>
<rect x="215.3" y="438.0" width="4.8" height="3.6" fill="#9fd0f2"/>
<rect x="214.5" y="445.4" width="6.4" height="2" rx="0.6" fill="#2b5fc0"/>
<rect x="210.9" y="438.0" width="1" height="2.6" fill="#4a9a3a"/>
<rect x="223.5" y="438.0" width="1" height="2.6" fill="#d6452a"/>
<rect x="221.9" y="432.0" width="1.4" height="2.4" fill="#6a5a2a"/>
</g>
<g>
<rect x="368.7" y="429.8" width="23.3" height="16.2" rx="0.6" fill="#f9d028"/>
<rect x="368.7" y="442.8" width="23.3" height="3.2" rx="0.6" fill="#f5c22e"/>
<rect x="370.2" y="431.3" width="20.3" height="10.6" fill="#f8e661"/>
<circle cx="372.9" cy="433.8" r="1.1" fill="#3b67c4"/>
<rect x="375.09999999999997" y="433.40000000000003" width="9" height="0.7" fill="#9cc45e"/>
<circle cx="386.7" cy="434.2" r="0.8" fill="#d8584a"/>
<rect x="371.7" y="437.2" width="2.4" height="1.6" fill="#4a4a3a"/>
<rect x="375.7" y="437.2" width="6" height="0.7" fill="#b4c45a"/>
<rect x="380.3" y="438.40000000000003" width="7.4" height="1.8" fill="#fdfcf2"/>
</g>
<g>
<path d="M412.32 430.8 h18 q3.4 0 3.4 3.4 v9.6 q0 3.4 -3.4 3.4 h-18 q-3.4 0 -3.4 -3.4 v-9.6 q0 -3.4 3.4 -3.4 z" fill="#17181b"/>
<rect x="416.12" y="434.8" width="11.2" height="7.8" rx="0.8" fill="#2a2f3a"/>
<rect x="417.12" y="435.8" width="9.2" height="5.8" fill="#1c2029"/>
<circle cx="412.52000000000004" cy="441.7" r="2.2" fill="#d6364c"/>
<circle cx="430.32" cy="441.7" r="2.2" fill="#3dbb72"/>
<rect x="428.72" y="435.40000000000003" width="1" height="2.4" fill="#3a7a4a"/>
<rect x="430.72" y="435.40000000000003" width="0.8" height="2.4" fill="#8a3a3a"/>
</g>
<g>
<path d="M454.50 437.30 C455.10 431.90 457.50 428.50 460.30 428.50 C462.30 428.50 463.70 429.70 464.10 431.70" fill="none" stroke="#1a1a1a" stroke-width="1.3"/>
<path d="M463.90 431.10 L464.50 434.30" fill="none" stroke="#ee5a1a" stroke-width="1.5"/>
<path d="M452.30 443.30 C453.90 446.30 460.50 446.10 461.50 443.50" fill="none" stroke="#1a1a1a" stroke-width="1.2"/>
<rect x="460.90" y="434.1" width="10.8" height="9.8" rx="0.7" fill="#ee5118"/>
<rect x="461.70" y="434.90000000000003" width="9.2" height="0.9" fill="#f47a3c"/>
<rect x="471.30" y="435.5" width="1.4" height="3" fill="#ee5118"/>
<rect x="462.90" y="437.70000000000005" width="6.6" height="4.4" fill="#dc4316"/>
<path d="M453.70 437.10 l2.8 0.8 v3.6 l-2.6 1.2 z" fill="#2c2c2c"/>
<ellipse cx="451.50" cy="439.8" rx="3.3" ry="3.8" fill="#f07a1a"/>
<ellipse cx="450.90" cy="440.1" rx="1.6" ry="2" fill="#e4edf4"/>
<circle cx="450.90" cy="440.3" r="0.8" fill="#8fb8dc"/>
</g>
<g>
<path d="M493.9144 433.5 l1.4 -3.2 h4.6 l1.6 3.2 z" fill="#1d2224"/>
<path d="M494.3144 443.5 l1.6 3.8 h4.6 l1.6 -3.8 z" fill="#1d2224"/>
<circle cx="497.3144" cy="438.5" r="7" fill="#15191b"/>
<circle cx="497.3144" cy="438.5" r="5.3" fill="#1c2a28" stroke="#3f5a55" stroke-width="0.8"/>
<path d="M497.3144 438.5 l2.6 -2.8 M497.3144 438.5 l-3 0.6" stroke="#aeb8b4" stroke-width="0.5" fill="none"/>
<rect x="503.9144" y="436.3" width="1.2" height="1.6" fill="#2a2f32"/>
<path d="M498.1144 441.7 l1.6 3.4" stroke="#e4e8e6" stroke-width="0.9"/>
</g>
<g>
<path d="M528.6 421.3 h9.8 q1.2 0 1.2 1.2 v9.8 q0 2 -0.8 3.6 q-0.6 1.4 -0.6 3 v9 q0 1.6 -1.6 1.6 h-6 q-1.6 0 -1.6 -1.6 v-9 q0 -1.6 -0.7 -3 q-0.7 -1.6 -0.7 -3.6 v-9.8 q0 -1.2 1 -1.2 z" fill="#1b1b1d"/>
<rect x="529.6" y="422.90000000000003" width="8" height="11" rx="0.6" fill="#2c2c2f"/>
<rect x="530.4" y="436.90000000000003" width="6.6" height="10" fill="#252527"/>
<rect x="533.4" y="436.90000000000003" width="0.5" height="10" fill="#3e3e42"/>
<rect x="530.4" y="441.3" width="6.6" height="0.5" fill="#3e3e42"/>
</g>
<g>
<path d="M565.3 422.0 Q569.6999999999999 420.2 574.0999999999999 422.0 Q577.0999999999999 423.59999999999997 576.9 427.4 L576.0999999999999 447.0 Q576.0 448.79999999999995 574.3 448.79999999999995 H565.0999999999999 Q563.4 448.79999999999995 563.3 447.0 L562.5 427.4 Q562.3 423.59999999999997 565.3 422.0 Z" fill="#f7d91e"/>
<circle cx="566.0999999999999" cy="428.0" r="1.5" fill="#fbfaf3"/>
<circle cx="569.6999999999999" cy="424.79999999999995" r="1.5" fill="#fbfaf3"/>
<circle cx="573.3" cy="428.0" r="1.5" fill="#fbfaf3"/>
<circle cx="569.6999999999999" cy="431.2" r="1.6" fill="#2b3e74"/>
<circle cx="569.6999999999999" cy="428.0" r="0.7" fill="#5a4a1a"/>
<rect x="565.3" y="436.0" width="8.8" height="7.8" rx="0.6" fill="#3a3f49"/>
<rect x="566.0999999999999" y="436.79999999999995" width="7.2" height="6.2" fill="#2a6fd0"/>
<rect x="567.3" y="438.0" width="4.8" height="3.6" fill="#9fd0f2"/>
<rect x="566.5" y="445.4" width="6.4" height="2" rx="0.6" fill="#2b5fc0"/>
<rect x="562.9" y="438.0" width="1" height="2.6" fill="#4a9a3a"/>
<rect x="575.5" y="438.0" width="1" height="2.6" fill="#d6452a"/>
<rect x="573.9" y="432.0" width="1.4" height="2.4" fill="#6a5a2a"/>
</g>
<g id="labels">
<text x="80.00" y="178.00" font-size="8.6" textLength="31.50" fill="#1c1c1c" font-weight="400">Internet</text>
<text x="136.50" y="176.84" font-size="7.9" textLength="26.00" fill="#1c1c1c" font-weight="600">防火墙</text>
<text x="213.80" y="138.84" font-size="7.9" textLength="33.20" fill="#1c1c1c" font-weight="600">主服务器</text>
<text x="251.00" y="138.84" font-size="7.9" textLength="50.00" fill="#1c1c1c" font-weight="600">声光报警音箱</text>
<text x="307.50" y="138.84" font-size="7.9" textLength="41.50" fill="#1c1c1c" font-weight="600">备用服务器</text>
<text x="259.00" y="181.84" font-size="7.9" textLength="33.50" fill="#1c1c1c" font-weight="600">双机热备</text>
<text x="66.00" y="230.34" font-size="7.9" textLength="75.70" fill="#1c1c1c" font-weight="600">数据融合上传服务器</text>
<text x="161.30" y="231.74" font-size="7.9" textLength="16.00" fill="#1c1c1c" font-weight="600">地面</text>
<text x="161.30" y="259.24" font-size="7.9" textLength="16.20" fill="#1c1c1c" font-weight="600">井下</text>
<text x="186.70" y="220.64" font-size="7.9" textLength="41.50" fill="#1c1c1c" font-weight="600">地面交换机</text>
<text x="295.00" y="222.34" font-size="7.9" textLength="32.50" fill="#1c1c1c" font-weight="600">地面核心</text>
<text x="299.50" y="233.84" font-size="7.9" textLength="24.50" fill="#1c1c1c" font-weight="600">交换机</text>
<text x="295.00" y="261.84" font-size="7.9" textLength="32.50" fill="#1c1c1c" font-weight="600">工业环网</text>
<text x="189.30" y="281.14" font-size="7.9" textLength="41.00" fill="#1c1c1c" font-weight="600">万兆交换机</text>
<text x="373.50" y="280.74" font-size="7.9" textLength="41.50" fill="#1c1c1c" font-weight="600">万兆交换机</text>
<text x="395.50" y="210.84" font-size="7.9" textLength="42.00" fill="#1c1c1c" font-weight="600">井口交换机</text>
<text x="380.00" y="134.84" font-size="7.9" textLength="24.40" fill="#1c1c1c" font-weight="600">大屏幕</text>
<text x="451.00" y="134.24" font-size="7.9" textLength="34.00" fill="#1c1c1c" font-weight="600">虹膜识别</text>
<text x="429.60" y="181.84" font-size="7.9" textLength="32.80" fill="#1c1c1c" font-weight="600">人脸识别</text>
<text x="473.60" y="181.84" font-size="7.9" textLength="33.40" fill="#1c1c1c" font-weight="600">静脉识别</text>
<text x="506.00" y="226.14" font-size="7.9" textLength="58.40" fill="#1c1c1c" font-weight="600">唯一性检测装置</text>
<text x="33.00" y="335.84" font-size="7.9" textLength="33.60" fill="#1c1c1c" font-weight="600">读卡分站</text>
<text x="108.50" y="335.84" font-size="7.9" textLength="33.50" fill="#1c1c1c" font-weight="600">读卡分站</text>
<text x="179.00" y="335.84" font-size="7.9" textLength="34.60" fill="#1c1c1c" font-weight="600">读卡分站</text>
<text x="329.00" y="320.84" font-size="7.9" textLength="34.00" fill="#1c1c1c" font-weight="600">读卡分站</text>
<text x="385.50" y="320.84" font-size="7.9" textLength="33.80" fill="#1c1c1c" font-weight="600">读卡分站</text>
<text x="498.50" y="320.84" font-size="7.9" textLength="34.30" fill="#1c1c1c" font-weight="600">读卡分站</text>
<text x="230.20" y="383.74" font-size="7.9" textLength="24.60" fill="#1c1c1c" font-weight="600">读卡器</text>
<text x="334.00" y="383.84" font-size="7.9" textLength="24.50" fill="#1c1c1c" font-weight="600">读卡器</text>
<text x="334.50" y="357.64" font-size="7.9" textLength="20.30" fill="#1c1c1c" font-weight="600" lengthAdjust="spacingAndGlyphs">LED屏</text>
<text x="325.00" y="403.84" font-size="7.9" textLength="42.00" fill="#1c1c1c" font-weight="600">声光报警器</text>
<text x="282.50" y="461.84" font-size="7.9" textLength="50.00" fill="#1c1c1c" font-weight="600">防爆阻拦装置</text>
<text x="34.60" y="461.14" font-size="7.9" textLength="24.40" fill="#1c1c1c" font-weight="600">标识卡</text>
<text x="91.00" y="461.34" font-size="7.9" textLength="33.50" fill="#1c1c1c" font-weight="600">信息矿灯</text>
<text x="130.00" y="461.34" font-size="7.9" textLength="33.70" fill="#1c1c1c" font-weight="600">本安手表</text>
<text x="169.00" y="461.34" font-size="7.9" textLength="24.50" fill="#1c1c1c" font-weight="600">标识卡</text>
<text x="169.00" y="471.14" font-size="7.9" textLength="24.50" fill="#1c1c1c" font-weight="600">搜索仪</text>
<text x="197.30" y="461.34" font-size="7.9" textLength="42.00" fill="#1c1c1c" font-weight="600">多参数气体</text>
<text x="205.50" y="471.14" font-size="7.9" textLength="24.00" fill="#1c1c1c" font-weight="600">测定器</text>
<text x="386.60" y="461.14" font-size="7.9" textLength="24.40" fill="#1c1c1c" font-weight="600">标识卡</text>
<text x="443.00" y="461.34" font-size="7.9" textLength="33.50" fill="#1c1c1c" font-weight="600">信息矿灯</text>
<text x="483.30" y="461.34" font-size="7.9" textLength="33.70" fill="#1c1c1c" font-weight="600">本安手表</text>
<text x="521.00" y="461.34" font-size="7.9" textLength="24.50" fill="#1c1c1c" font-weight="600">标识卡</text>
<text x="521.00" y="471.14" font-size="7.9" textLength="24.50" fill="#1c1c1c" font-weight="600">搜索仪</text>
<text x="549.30" y="461.34" font-size="7.9" textLength="42.00" fill="#1c1c1c" font-weight="600">多参数气体</text>
<text x="557.50" y="471.14" font-size="7.9" textLength="24.00" fill="#1c1c1c" font-weight="600">测定器</text>
</g>
</svg>
</body>
</html>
